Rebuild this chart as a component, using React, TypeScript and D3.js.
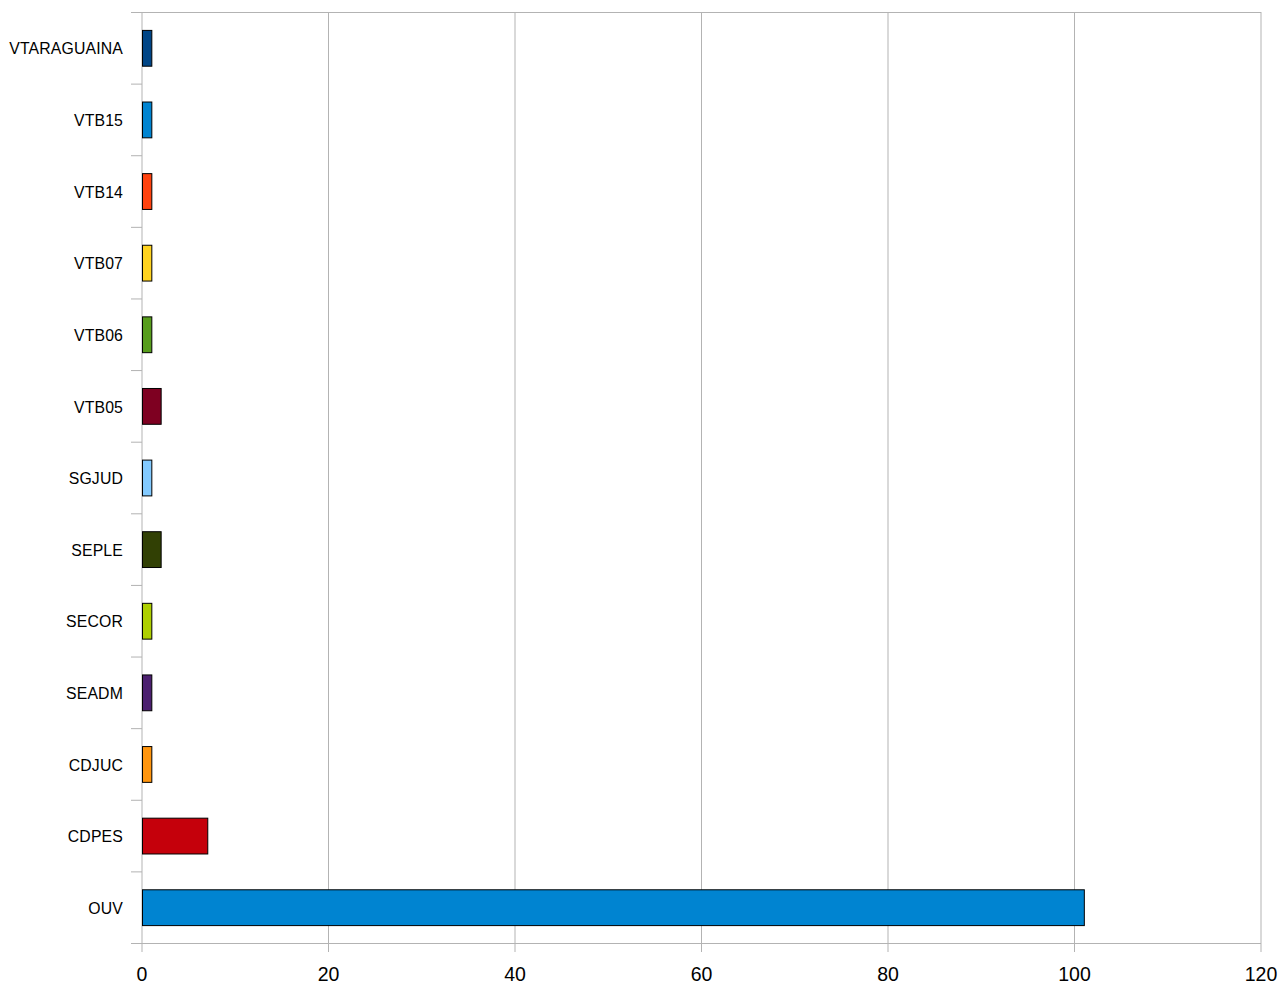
import React from 'react';
import * as d3 from 'd3';

const categories = [
  'VTARAGUAINA', 'VTB15', 'VTB14', 'VTB07', 'VTB06', 'VTB05', 'SGJUD',
  'SEPLE', 'SECOR', 'SEADM', 'CDJUC', 'CDPES', 'OUV',
];
const values = [1, 1, 1, 1, 1, 2, 1, 2, 1, 1, 1, 7, 101];
const colors = [
  '#004586', '#0084d1', '#ff420e', '#ffd320', '#579d1c', '#7e0021', '#83caff',
  '#314004', '#aecf00', '#4b1f6f', '#ff950e', '#c5000b', '#0084d1',
];
const xTicks = [0, 20, 40, 60, 80, 100, 120];

const W = 1282;
const H = 984;
const left = 142;
const right = 1261;
const top = 12;
const bottom = 943;

export default function App() {
  const x = d3.scaleLinear().domain([0, 120]).range([left, right]);
  const y = d3.scaleBand<string>().domain(categories).range([top, bottom])
    .paddingInner(0.5).paddingOuter(0.25);
  const step = y.step();
  const font = '"Liberation Sans", Arial, sans-serif';

  return (
    <svg width={W} height={H} style={{ position: 'absolute', left: 0, top: 0 }}>
      <rect width={W} height={H} fill="#fff" />
      {/* grid */}
      {xTicks.map(t => (
        <line key={'g' + t} x1={x(t)} x2={x(t)} y1={top} y2={bottom + 9}
          stroke="#b3b3b3" strokeWidth={1} />
      ))}
      <line x1={left} x2={right} y1={top + 0.5} y2={top + 0.5} stroke="#b3b3b3" />
      <line x1={left - 11} x2={right} y1={bottom + 0.5} y2={bottom + 0.5} stroke="#b3b3b3" />
      {/* category ticks */}
      {d3.range(categories.length + 1).map(i => (
        <line key={'c' + i} x1={left - 11} x2={left} y1={top + i * step + 0.5} y2={top + i * step + 0.5}
          stroke="#b3b3b3" />
      ))}
      {/* bars */}
      {categories.map((c, i) => (
        <rect key={c} x={x(0) + 0.5} y={(y(c) as number) + 0.5}
          width={x(values[i]) - x(0)} height={y.bandwidth()}
          fill={colors[i]} stroke="#000" strokeWidth={1} />
      ))}
      {/* category labels */}
      {categories.map(c => (
        <text key={'l' + c} x={123} y={(y(c) as number) + y.bandwidth() / 2 + 1} dy="0.36em"
          textAnchor="end" fontFamily={font} fontSize={15.8} letterSpacing={0.15} fill="#000">{c}</text>
      ))}
      {/* value labels */}
      {xTicks.map(t => (
        <text key={'t' + t} x={x(t)} y={981} textAnchor="middle"
          fontFamily={font} fontSize={19.5} fill="#000">{t}</text>
      ))}
    </svg>
  );
}
